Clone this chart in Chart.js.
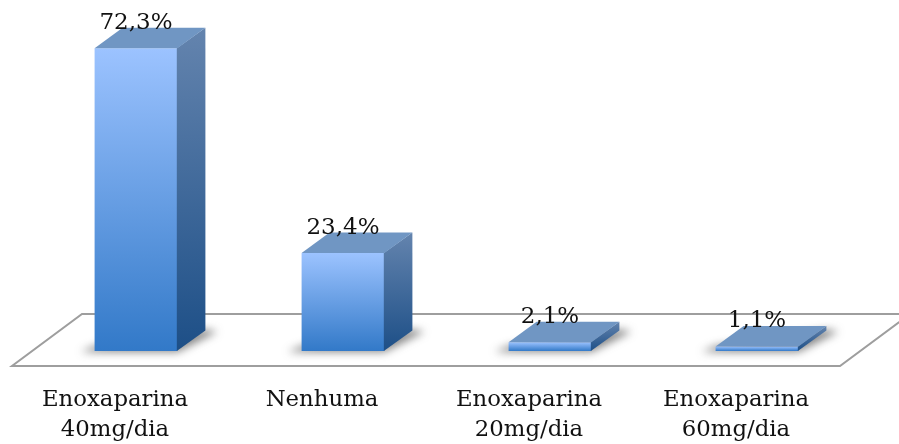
<!DOCTYPE html>
<html>
<head>
<meta charset="utf-8">
<style>
  html, body { margin: 0; padding: 0; background: #ffffff; }
  canvas { display: block; }
</style>
<script src="https://cdn.jsdelivr.net/npm/chart.js@4/dist/chart.umd.min.js"></script>
</head>
<body>
<canvas id="chart" width="899" height="444"></canvas>
<script>
// Enoxaparin regimens, share of patients (%)
const categories = [
  ['Enoxaparina', '40mg/dia'],
  ['Nenhuma'],
  ['Enoxaparina', '20mg/dia'],
  ['Enoxaparina', '60mg/dia']
];
const shares = [72.3, 23.4, 2.1, 1.1];

const SERIF = '"DejaVu Serif", "Liberation Serif", serif';
const DEPTH_X = 28;
const DEPTH_Y = 20.5;

const formatShare = v => v.toFixed(1).replace('.', ',') + '%';

function verticalGradient(ctx, top, bottom, from, to) {
  const g = ctx.createLinearGradient(0, top, 0, bottom);
  g.addColorStop(0, from);
  g.addColorStop(1, to);
  return g;
}

function polygon(ctx, pts) {
  ctx.beginPath();
  pts.forEach((p, i) => i ? ctx.lineTo(p[0], p[1]) : ctx.moveTo(p[0], p[1]));
  ctx.closePath();
}

// Receding floor plane and the soft shadows the columns cast on it
const floorPlugin = {
  id: 'floor',
  beforeDatasetsDraw(chart) {
    const { ctx, chartArea } = chart;
    const frontY = chartArea.bottom + 15;
    const backY = chartArea.bottom - 37;
    ctx.save();
    ctx.strokeStyle = '#9e9e9e';
    ctx.lineWidth = 2;
    ctx.lineJoin = 'miter';
    ctx.beginPath();
    ctx.moveTo(899, backY);
    ctx.lineTo(82, backY);
    ctx.lineTo(12, frontY);
    ctx.lineTo(840, frontY);
    ctx.lineTo(910, backY);
    ctx.stroke();

    chart.getDatasetMeta(0).data.forEach(bar => {
      const left = bar.x - bar.width / 2;
      const right = bar.x + bar.width / 2;
      const base = bar.base;
      ctx.save();
      ctx.filter = 'blur(4px)';
      ctx.fillStyle = 'rgba(60,60,60,0.62)';
      polygon(ctx, [
        [left - 14, base + 1],
        [right, base + 1],
        [right + DEPTH_X + 12, base - DEPTH_Y + 1],
        [right + DEPTH_X, base - DEPTH_Y - 1],
        [left, base - 5]
      ]);
      ctx.fill();
      ctx.restore();
    });
    ctx.restore();
  },
  // Side and top faces extruded from each column's front face
  afterDatasetsDraw(chart) {
    const { ctx } = chart;
    chart.getDatasetMeta(0).data.forEach(bar => {
      const left = bar.x - bar.width / 2;
      const right = bar.x + bar.width / 2;
      const top = bar.y;
      const base = bar.base;
      ctx.save();
      ctx.fillStyle = verticalGradient(ctx, top - DEPTH_Y, base, '#6484ae', '#1d4f87');
      polygon(ctx, [
        [right - 0.6, top],
        [right + DEPTH_X, top - DEPTH_Y],
        [right + DEPTH_X, base - DEPTH_Y],
        [right - 0.6, base]
      ]);
      ctx.fill();
      ctx.fillStyle = '#7096c3';
      polygon(ctx, [
        [left, top],
        [left + DEPTH_X, top - DEPTH_Y],
        [right + DEPTH_X, top - DEPTH_Y],
        [right, top]
      ]);
      ctx.fill();
      ctx.restore();
    });
  },
  // Value labels sit over the top face of each column
  afterDraw(chart) {
    const { ctx } = chart;
    ctx.save();
    ctx.font = '23px ' + SERIF;
    ctx.fillStyle = '#111111';
    ctx.textAlign = 'center';
    ctx.textBaseline = 'middle';
    chart.getDatasetMeta(0).data.forEach((bar, i) => {
      ctx.fillText(formatShare(shares[i]), bar.x, bar.y - 25);
    });
    ctx.restore();
  }
};

new Chart(document.getElementById('chart'), {
  type: 'bar',
  data: {
    labels: categories,
    datasets: [{
      data: shares,
      categoryPercentage: 1,
      barPercentage: 0.4,
      borderWidth: 0,
      backgroundColor(c) {
        const { chart, dataIndex } = c;
        const yScale = chart.scales.y;
        if (!yScale || !chart.chartArea || dataIndex === undefined) return '#5f9be6';
        const top = yScale.getPixelForValue(shares[dataIndex]);
        return verticalGradient(chart.ctx, top, chart.chartArea.bottom, '#9cc3ff', '#3279c8');
      }
    }]
  },
  options: {
    responsive: false,
    animation: false,
    layout: { padding: { left: 32.5, right: 38.5, top: 16, bottom: 0 } },
    plugins: { legend: { display: false }, title: { display: false }, tooltip: { enabled: false } },
    scales: {
      x: {
        grid: { display: false },
        border: { display: false },
        afterFit(scale) { scale.height = 93; },
        ticks: {
          color: '#111111',
          font: { family: SERIF, size: 22.8, lineHeight: 1.32 },
          labelOffset: -21,
          maxRotation: 0,
          minRotation: 0,
          autoSkip: false,
          padding: 26
        }
      },
      y: {
        display: false,
        min: 0,
        max: 80
      }
    }
  },
  plugins: [floorPlugin]
});
</script>
</body>
</html>
